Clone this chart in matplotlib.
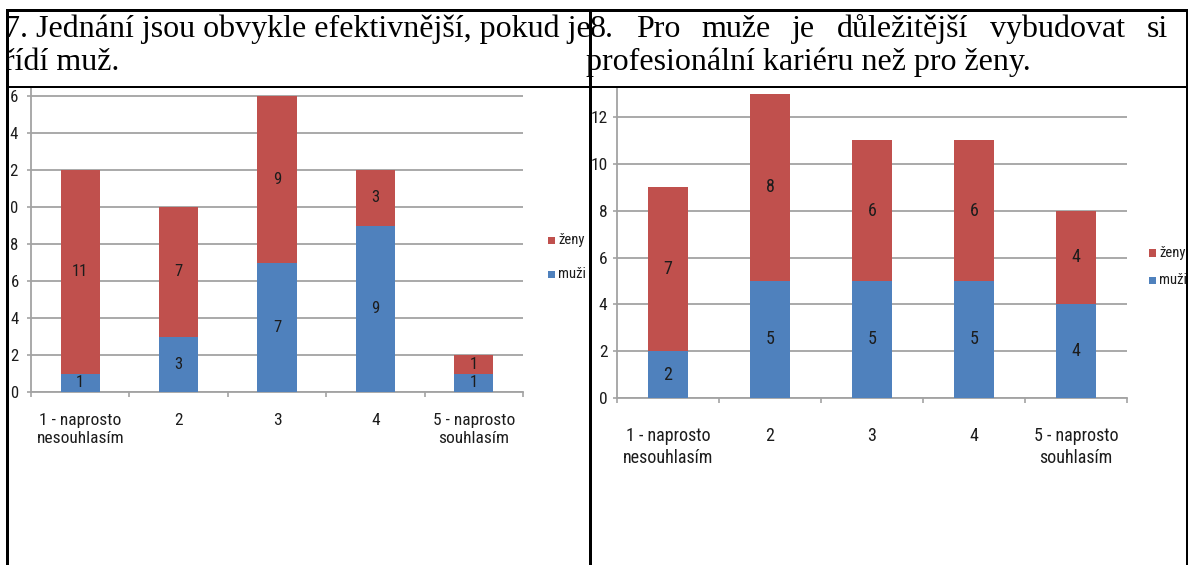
import matplotlib
matplotlib.use('Agg')
import matplotlib.pyplot as plt
import numpy as np
from matplotlib import font_manager
from matplotlib.patches import Rectangle

# ---------------- data ----------------
categories = ['1 - naprosto\nnesouhlasím', '2', '3', '4', '5 - naprosto\nsouhlasím']
legend_labels = ['ženy', 'muži']
q7_muzi = [1, 3, 7, 9, 1]
q7_zeny = [11, 7, 9, 3, 1]
q8_muzi = [2, 5, 5, 5, 4]
q8_zeny = [7, 8, 6, 6, 4]
q7_title = ['7. Jednání jsou obvykle efektivnější, pokud je', 'řídí muž.']
q8_title = ['8. Pro muže je důležitější vybudovat si', 'profesionální kariéru než pro ženy.']
q7_yticks = [0, 2, 4, 6, 8, 10, 12, 14, 16]
q8_yticks = [0, 2, 4, 6, 8, 10, 12]

# ---------------- style ----------------
W, H, DPI = 1195, 565, 100
BLUE = '#4F81BD'
RED = '#C0504D'
GRID = '#A3A3A3'
TXT = '#1c1c1c'
PX = 72.0 / DPI  # points per pixel

available = {f.name for f in font_manager.fontManager.ttflist}
SANS = 'Lato'
for cand in ['Liberation Sans Narrow', 'Roboto Condensed', 'Open Sans Condensed', 'Lato']:
    if cand in available:
        SANS = cand
        break
SERIF = 'Liberation Serif'

fig = plt.figure(figsize=(W / DPI, H / DPI), dpi=DPI)
fig.patch.set_facecolor('white')


def fr(x0, y0, x1, y1):
    """pixel box (origin top-left) -> figure fraction [l, b, w, h]"""
    return [x0 / W, 1 - y1 / H, (x1 - x0) / W, (y1 - y0) / H]


def rect_px(x0, y0, x1, y1, color, z=20):
    r = Rectangle((x0 / W, 1 - y1 / H), (x1 - x0) / W, (y1 - y0) / H,
                  transform=fig.transFigure, facecolor=color, edgecolor='none',
                  zorder=z)
    fig.add_artist(r)


def chart(box, muzi, zeny, yticks, fs_y, fs_x, fs_lab, xpad, ypad, leg, fs_leg):
    ax = fig.add_axes(fr(*box))
    x = np.arange(len(categories))
    b_m = ax.bar(x, muzi, width=0.4, color=BLUE, zorder=3)
    b_z = ax.bar(x, zeny, width=0.4, bottom=muzi, color=RED, zorder=3)
    for bars in (b_m, b_z):
        ax.bar_label(bars, label_type='center', fontsize=fs_lab, family=SANS,
                     color=TXT)
    ax.set_xlim(-0.5, len(categories) - 0.5)
    ax.set_yticks(yticks)
    ax.set_yticklabels([str(v) for v in yticks], fontsize=fs_y, family=SANS,
                       color=TXT)
    ax.yaxis.grid(True, color=GRID, lw=1.3, zorder=0)
    ax.set_axisbelow(True)
    ax.tick_params(axis='y', length=4 * PX, width=1.2, color=GRID, pad=ypad)
    ax.set_xticks(np.arange(-0.5, len(categories), 1.0))
    ax.set_xticklabels([])
    ax.tick_params(axis='x', which='major', length=5 * PX, width=1.2, color=GRID)
    ax.set_xticks(x, minor=True)
    ax.set_xticklabels(categories, minor=True, fontsize=fs_x, family=SANS,
                       color=TXT, linespacing=1.3)
    ax.tick_params(axis='x', which='minor', length=0, pad=xpad)
    for s in ('top', 'right'):
        ax.spines[s].set_visible(False)
    for s in ('left', 'bottom'):
        ax.spines[s].set_color(GRID)
        ax.spines[s].set_linewidth(1.3)
    # legend entries (ženy above muži), drawn at pixel positions
    lx, ly, dy = leg
    for k, (lab, col) in enumerate(zip(legend_labels, [RED, BLUE])):
        yc = ly + k * dy
        rect_px(lx, yc - 3.5, lx + 7, yc + 3.5, col, z=5)
        fig.text((lx + 10) / W, 1 - yc / H, lab, family=SANS, fontsize=fs_leg,
                 color=TXT, va='center', ha='left', zorder=5)
    return ax


# left chart (question 7): y=0 at 392px, 16 at 96px
ax1 = chart((31, 88, 523, 392), q7_muzi, q7_zeny, q7_yticks,
            fs_y=12, fs_x=12.5, fs_lab=12, xpad=15, ypad=6,
            leg=(548, 240, 34), fs_leg=10.5)
ax1.set_ylim(0, 16 * (392 - 88) / (392 - 96))

# right chart (question 8): y=0 at 398px, 12 at 117px
ax2 = chart((617, 88, 1127, 398), q8_muzi, q8_zeny, q8_yticks,
            fs_y=12.5, fs_x=13, fs_lab=13, xpad=21, ypad=4,
            leg=(1149, 253, 27), fs_leg=10.5)
ax2.set_ylim(0, 12 * (398 - 88) / (398 - 117))

# ---------------- titles ----------------
TFS = 23
renderer = fig.canvas.get_renderer()

for i, line in enumerate(q7_title):
    fig.text(4 / W, 1 - (37 + 33 * i) / H, line, family=SERIF, fontsize=TFS,
             va='baseline', ha='left', color='black', zorder=5)

# right title: first line justified, second line left aligned
words = q8_title[0].split(' ')
tmp = [fig.text(0, 0, w_, family=SERIF, fontsize=TFS) for w_ in words]
widths = [t.get_window_extent(renderer).width for t in tmp]
for t in tmp:
    t.remove()
start, end = 590, 1168
gap = (end - start - sum(widths)) / (len(words) - 1)
xpos = start
for w_, wd in zip(words, widths):
    fig.text(xpos / W, 1 - 37 / H, w_, family=SERIF, fontsize=TFS,
             va='baseline', ha='left', color='black', zorder=5)
    xpos += wd + gap
fig.text(586 / W, 1 - 70 / H, q8_title[1], family=SERIF, fontsize=TFS,
         va='baseline', ha='left', color='black', zorder=5)

# ---------------- table borders ----------------
rect_px(0, 0, 6, H, 'white')
rect_px(1188, 0, W, H, 'white')
rect_px(0, 0, W, 9.5, 'white')
rect_px(6, 9.5, 8.5, H, 'black')
rect_px(588.5, 9.5, 591.5, H, 'black')
rect_px(1185.5, 9.5, 1188, H, 'black')
rect_px(6, 9.5, 1188, 12, 'black')
rect_px(6, 85.5, 1188, 88, 'black')

fig.savefig('out.png', dpi=DPI, facecolor='white')
